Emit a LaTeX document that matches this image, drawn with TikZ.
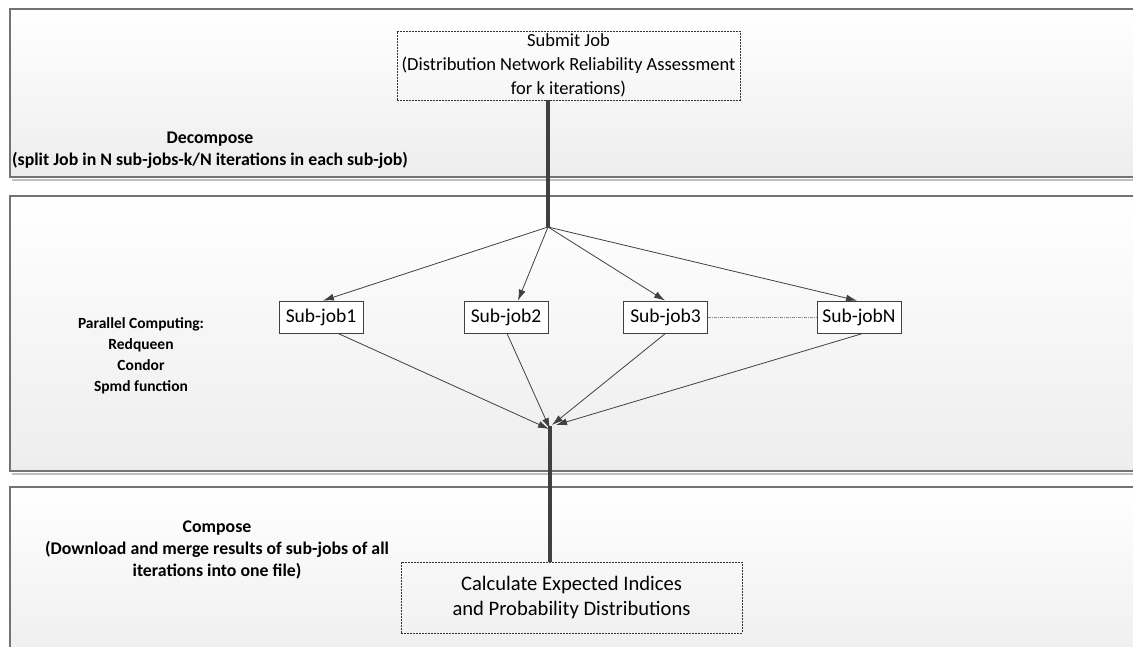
\documentclass[tikz,border=0pt]{standalone}
\usepackage{fontspec}
\setmainfont{Carlito}
\usetikzlibrary{arrows.meta}
\begin{document}
\begin{tikzpicture}[x=1pt,y=-1pt,
  panel/.style={draw=black!55, line width=1.2pt, top color=white, bottom color=black!7},
  panelshadow/.style={draw=black!25, line width=2pt},
  dashbox/.style={draw=black!80, dash pattern=on 2pt off 1pt, line width=0.7pt, align=center, inner sep=0pt},
  jobbox/.style={draw=black!75, line width=0.8pt, fill=white, minimum width=84pt, minimum height=32pt, inner sep=0pt, font=\fontsize{19.5}{22}\selectfont},
  arr/.style={draw=black!75, line width=0.8pt, -{Latex[length=11pt,width=7pt]}},
  heavy/.style={draw=black!75, line width=3.5pt},
  lbl/.style={font=\bfseries\fontsize{17.8}{21.8}\selectfont, align=center, inner sep=0pt},
  dots/.style={draw=black!45, line width=0.7pt, dash pattern=on 3pt off 1pt on 1pt off 1pt}]
\useasboundingbox (0,0) rectangle (1133,646);
\clip (0,0) rectangle (1133,646);
\fill[white] (0,0) rectangle (1133,646);

% panels
\draw[panelshadow] (12,179.5) -- (1150,179.5);
\draw[panelshadow] (12,473.5) -- (1150,473.5);
\draw[panel] (10,9) rectangle (1150,177);
\draw[panel] (10,196) rectangle (1150,471);
\draw[panel] (10,487) rectangle (1150,670);

% panel labels
\node[lbl] (decomp) at (210,150) {Decompose\\(split Job in N sub-jobs-k/N iterations in each sub-job)};
\node[lbl, font=\bfseries\fontsize{15.5}{21}\selectfont] (parallel) at (141,356) {Parallel Computing:\\Redqueen\\Condor\\Spmd function};
\node[lbl] (compose) at (217,550) {Compose\\(Download and merge results of sub-jobs of all\\iterations into one file)};

% boxes
\node[dashbox, minimum width=343pt, minimum height=69pt, font=\fontsize{18.5}{24}\selectfont] (submit) at (568.5,65.5)
  {Submit Job\\(Distribution Network Reliability Assessment\\for k iterations)};
\node[dashbox, minimum width=341pt, minimum height=71pt, font=\fontsize{20.6}{24.5}\selectfont] (calc) at (571.5,597.5)
  {Calculate Expected Indices\\and Probability Distributions};

\node[jobbox] (sj1) at (321,317) {Sub-job1};
\node[jobbox] (sj2) at (506,317) {Sub-job2};
\node[jobbox] (sj3) at (665.5,317) {Sub-job3};
\node[jobbox] (sjN) at (859,317) {Sub-jobN};

\coordinate (fork) at (548,227);
\coordinate (merge) at (550,426);

% heavy trunk lines
\draw[heavy] (fork |- submit.south) -- (fork);
\draw[heavy] (merge) -- (merge |- calc.north);

% fan out
\draw[arr] (fork) -- ([xshift=2pt]sj1.north);
\draw[arr] (fork) -- ([xshift=12pt]sj2.north);
\draw[arr] (fork) -- ([xshift=-0.5pt]sj3.north);
\draw[arr] (fork) -- ([xshift=-2pt]sjN.north);

% fan in
\draw[arr] ([xshift=17pt]sj1.south) -- ([xshift=-1pt,yshift=-3pt]merge);
\draw[arr] ([xshift=1pt]sj2.south) -- ([yshift=-3pt]merge);
\draw[arr] (sj3.south) -- ([xshift=2pt,yshift=1pt]merge);
\draw[arr] ([xshift=4pt]sjN.south) -- ([xshift=6pt,yshift=1pt]merge);

% ellipsis link
\draw[dots] (sj3.east) -- (sjN.west);
\end{tikzpicture}
\end{document}
